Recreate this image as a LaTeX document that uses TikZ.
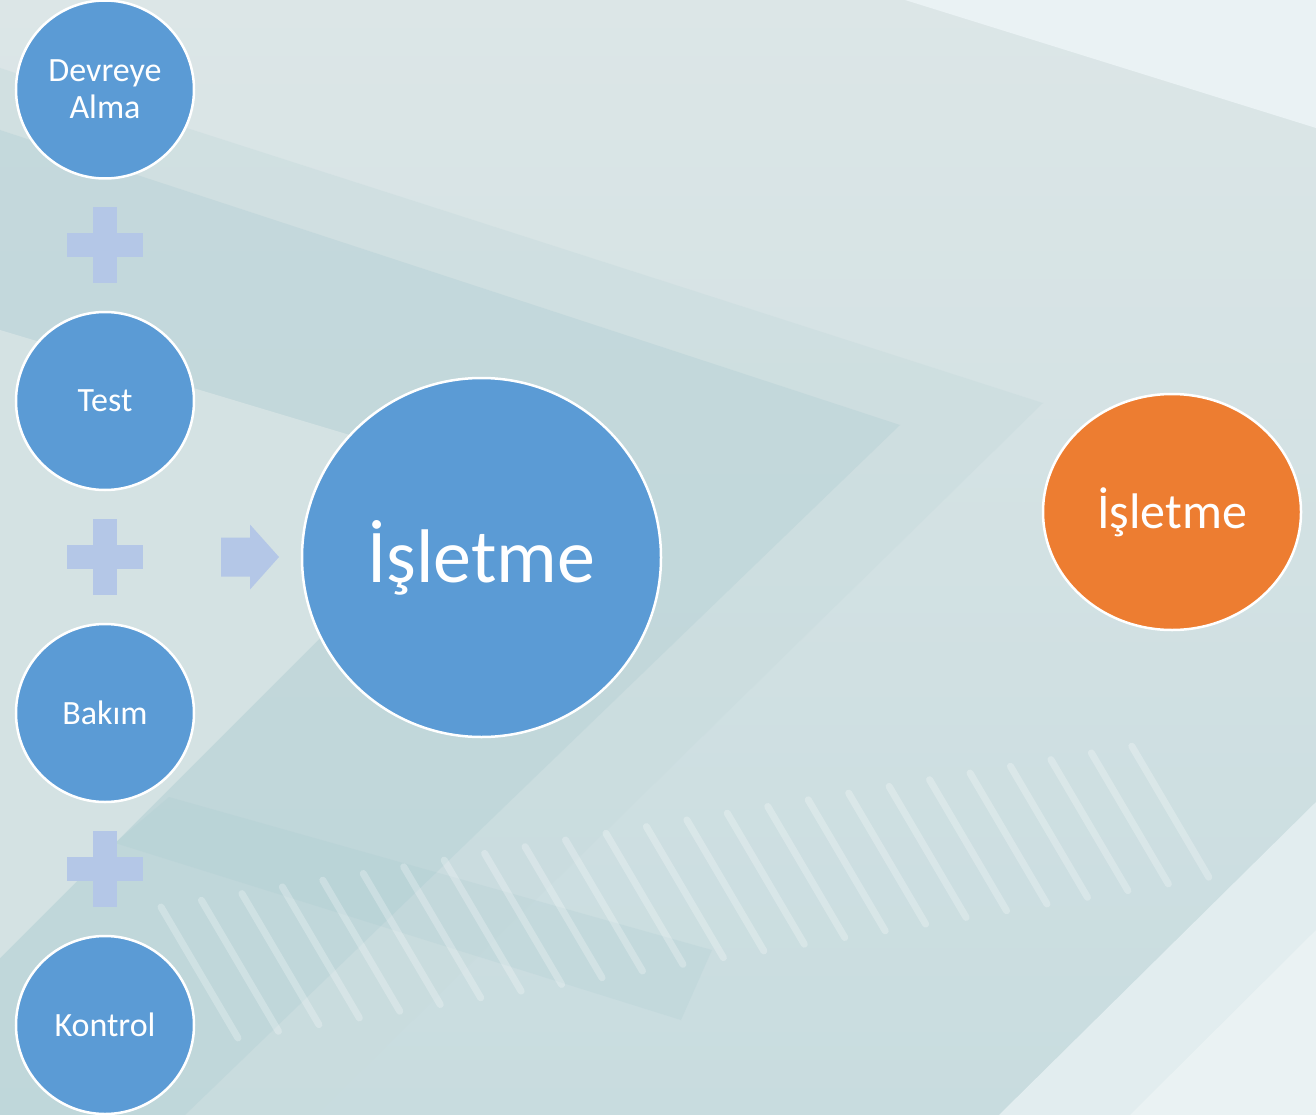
\documentclass[tikz,border=0pt]{standalone}
\usepackage{fontspec}
\setmainfont{Carlito}
\usetikzlibrary{calc,shapes.geometric}
\definecolor{bgtop}{HTML}{DCE6E7}
\definecolor{bgbot}{HTML}{C8DCDF}
\definecolor{topstrip}{HTML}{EAF2F4}
\definecolor{chevA}{HTML}{C9DCDE}
\definecolor{chevB}{HTML}{B6D1D6}
\definecolor{lighttri}{HTML}{D8E4E5}
\definecolor{darkband}{HTML}{9FC5CC}
\definecolor{brlight}{HTML}{E2EDEF}
\definecolor{brlighter}{HTML}{EAF2F3}
\definecolor{nodeblue}{HTML}{5B9BD5}
\definecolor{nodeorange}{HTML}{ED7D31}
\definecolor{plusfill}{HTML}{B4C7E7}
\begin{document}
\begin{tikzpicture}[x=1pt,y=-1pt,
  stepcircle/.style={circle, fill=nodeblue, draw=white, line width=2.5pt, text=white,
    inner sep=0pt, minimum size=178pt, font=\fontsize{34}{37}\selectfont, align=center},
  bigcircle/.style={circle, fill=nodeblue, draw=white, line width=2.5pt, text=white,
    inner sep=0pt, minimum size=359pt, font=\fontsize{76}{80}\selectfont},
  resultnode/.style={ellipse, fill=nodeorange, draw=white, line width=2.5pt, text=white,
    inner sep=0pt, minimum width=258pt, minimum height=236pt, font=\fontsize{50}{54}\selectfont},
  plusshape/.style={fill=plusfill},
  stripe/.style={draw=white, draw opacity=0.25, line width=7pt, line cap=round}]
% ---------- background ----------
\useasboundingbox (0,0) rectangle (1316,1115);
\shade[top color=bgtop, bottom color=bgbot] (0,0) rectangle (1316,1115);
\fill[topstrip] (905,0) -- (1316,0) -- (1316,128) -- cycle;
\fill[chevA, fill opacity=0.5] (0,68) -- (1043,403) -- (316,1115) -- (0,1115) -- cycle;
\fill[chevB, fill opacity=0.45] (0,130) -- (900,425) -- (185,1115) -- (0,1115) -- cycle;
\fill[lighttri, fill opacity=0.85] (0,330) -- (483,475) -- (0,958) -- cycle;
\fill[darkband, fill opacity=0.16] (169,797) -- (712,950) -- (681,1020) -- (115,843) -- cycle;
\fill[brlight] (1316,802) -- (1316,1115) -- (999,1115) -- cycle;
\fill[brlighter] (1316,930) -- (1316,1115) -- (1130,1115) -- cycle;
\foreach \i in {0,...,24}
  \draw[stripe] ({161+40.45*\i},{907-6.7*\i}) -- ++(77,131);
% ---------- nodes ----------
\node[stepcircle] (dev) at (105,89.5) {Devreye\\Alma};
\node[stepcircle] (test) at (105,401) {Test};
\node[stepcircle] (bakim) at (105,713) {Bakım};
\node[stepcircle] (kontrol) at (105,1025) {Kontrol};
\node[bigcircle] (isl) at (481.5,557.5) {İşletme};
\node[resultnode] (res) at (1172,512) {İşletme};
% ---------- plus signs between steps ----------
\path (dev) -- (test) coordinate[pos=0.5] (p1);
\path (test) -- (bakim) coordinate[pos=0.5] (p2);
\path (bakim) -- (kontrol) coordinate[pos=0.5] (p3);
\foreach \p in {p1,p2,p3}{
  \fill[plusshape, shift={(\p)}] (-12,-38) rectangle (12,38);
  \fill[plusshape, shift={(\p)}] (-38,-12) rectangle (38,12);
}
% ---------- arrow to the result ----------
\coordinate (arr) at (250,557);
\fill[plusshape, shift={(arr)}] (-29,-19.5) -- (0,-19.5) -- (0,-32.5) -- (29,0)
  -- (0,32.5) -- (0,19.5) -- (-29,19.5) -- cycle;
\end{tikzpicture}
\end{document}
